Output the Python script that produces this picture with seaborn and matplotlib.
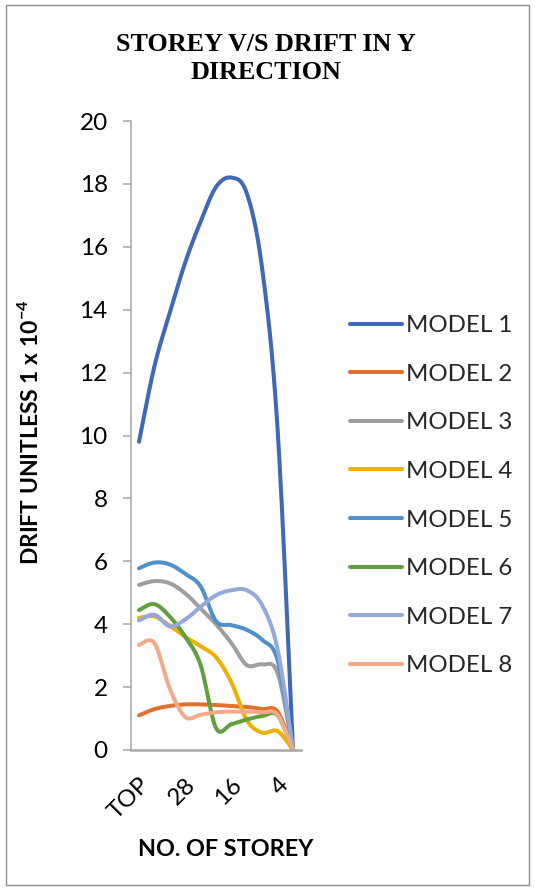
import numpy as np
import pandas as pd
import matplotlib
matplotlib.use("Agg")
import matplotlib.pyplot as plt
from matplotlib.patches import Rectangle
import seaborn as sns

# ---- data ----
storeys = ['TOP', '36', '32', '28', '24', '20', '16', '12', '8', '4', '0']
shown_labels = ['TOP', '28', '16', '4']
model1 = [9.8, 12.2, 13.9, 15.5, 16.8, 17.9, 18.2, 17.7, 15.3, 10.2, 0]
model2 = [1.1, 1.3, 1.4, 1.45, 1.45, 1.43, 1.4, 1.37, 1.3, 1.22, 0]
model3 = [5.25, 5.37, 5.3, 4.98, 4.5, 4.0, 3.4, 2.7, 2.72, 2.45, 0]
model4 = [4.2, 4.25, 3.95, 3.6, 3.3, 2.95, 2.15, 0.95, 0.55, 0.6, 0]
model5 = [5.78, 5.96, 5.9, 5.6, 5.2, 4.1, 3.97, 3.82, 3.5, 2.85, 0]
model6 = [4.45, 4.64, 4.24, 3.6, 2.7, 0.7, 0.82, 0.97, 1.08, 1.1, 0]
model7 = [4.12, 4.3, 3.93, 4.15, 4.55, 4.92, 5.08, 5.08, 4.6, 3.2, 0]
model8 = [3.34, 3.4, 1.95, 1.05, 1.12, 1.2, 1.22, 1.22, 1.2, 1.12, 0]
model_names = ['MODEL 1', 'MODEL 2', 'MODEL 3', 'MODEL 4',
               'MODEL 5', 'MODEL 6', 'MODEL 7', 'MODEL 8']
series = [model1, model2, model3, model4, model5, model6, model7, model8]
colors = ['#3F68B5', '#DE7130', '#9E9E9E', '#EDB100',
          '#4F8FCB', '#62A03F', '#94A9DB', '#F2AB8A']


def smooth(xs, ys, n=30):
    """Excel-like smoothed line (Catmull-Rom as cubic Bezier)."""
    P = np.column_stack([xs, ys]).astype(float)
    out = []
    m = len(P)
    t = np.linspace(0, 1, n)[:, None]
    for i in range(m - 1):
        p0 = P[i - 1] if i > 0 else P[i]
        p1 = P[i]
        p2 = P[i + 1]
        p3 = P[i + 2] if i + 2 < m else P[i + 1]
        c1 = p1 + (p2 - p0) / 6.0
        c2 = p2 - (p3 - p1) / 6.0
        seg = ((1 - t) ** 3) * p1 + 3 * ((1 - t) ** 2) * t * c1 + \
            3 * (1 - t) * t ** 2 * c2 + t ** 3 * p2
        if i > 0:
            seg = seg[1:]
        out.append(seg)
    return np.vstack(out)


xpos = np.arange(len(storeys))
frames = []
for name, vals in zip(model_names, series):
    pts = smooth(xpos, vals)
    frames.append(pd.DataFrame({'x': pts[:, 0], 'y': pts[:, 1],
                                'model': name, 'order': np.arange(len(pts))}))
df = pd.concat(frames, ignore_index=True)

sns.set_theme(style='white')
plt.rcParams['font.family'] = ['Lato', 'DejaVu Sans']
plt.rcParams['mathtext.fontset'] = 'custom'
plt.rcParams['mathtext.rm'] = 'Lato'
plt.rcParams['mathtext.bf'] = 'Lato:bold'

W, H = 535, 891
fig = plt.figure(figsize=(W / 100, H / 100), dpi=100)
ax_left, ax_right, ax_top, ax_bottom = 131.3, 300.7, 121, 750
ax = fig.add_axes([ax_left / W, 1 - ax_bottom / H,
                   (ax_right - ax_left) / W, (ax_bottom - ax_top) / H])

sns.lineplot(data=df, x='x', y='y', hue='model', hue_order=model_names,
             palette=colors, sort=False, estimator=None, units='model',
             linewidth=2.9, ax=ax, legend=True)
for ln in ax.get_lines():
    ln.set_solid_capstyle('round')
    ln.set_solid_joinstyle('round')

ax.set_xlim(-0.5, len(storeys) - 0.5)
ax.set_ylim(0, 20)
ax.set_yticks(np.arange(0, 21, 2))
ax.set_yticklabels([str(v) for v in range(0, 21, 2)])
tick_idx = [storeys.index(s) for s in shown_labels]
ax.set_xticks(tick_idx)
ax.set_xticklabels(shown_labels, rotation=45, ha='right', va='top',
                   rotation_mode='anchor')

axis_color = '#A6A6A6'
for side in ['top', 'right']:
    ax.spines[side].set_visible(False)
ax.spines['left'].set_color(axis_color)
ax.spines['left'].set_linewidth(1.1)
ax.spines['bottom'].set_color(axis_color)
ax.spines['bottom'].set_linewidth(1.8)
ax.tick_params(axis='y', which='both', left=True, length=6, width=1.1,
               color=axis_color, pad=11, labelsize=17.5, labelcolor='black')
ax.tick_params(axis='x', which='both', bottom=False, length=0, pad=17,
               labelsize=17.5, labelcolor='black')

ax.set_xlabel('NO. OF STOREY', fontsize=16.8, fontweight='bold', color='black')
ax.xaxis.set_label_coords(0.555, -0.141)
ax.set_ylabel(r'DRIFT UNITLESS 1 x 10$^{\mathbf{-4}}$', fontsize=16.5,
              fontweight='bold', color='black')
ax.yaxis.set_label_coords(-0.53, 0.505)

handles, labels = ax.get_legend_handles_labels()
leg = ax.legend(handles, labels, loc='upper left',
                bbox_to_anchor=(350 / W, 1 - 315 / H),
                bbox_transform=fig.transFigure, frameon=False,
                fontsize=17.3, handlelength=2.15, handletextpad=0.2,
                labelspacing=1.15, borderaxespad=0, borderpad=0)
for h in leg.legend_handles:
    h.set_linewidth(2.9)
    h.set_solid_capstyle('round')

fig.text(266 / W, 1 - 33 / H, 'STOREY V/S DRIFT IN Y\nDIRECTION',
         ha='center', va='top', fontsize=18.8, fontweight='bold',
         family=['Liberation Serif', 'DejaVu Serif'], linespacing=1.3,
         color='black')

fig.patches.append(Rectangle((6 / W, 1 - 885 / H), 523 / W, 880 / H,
                             transform=fig.transFigure, fill=False,
                             edgecolor='#8C8C8C', linewidth=1.0))

fig.savefig('out.png', dpi=100)
